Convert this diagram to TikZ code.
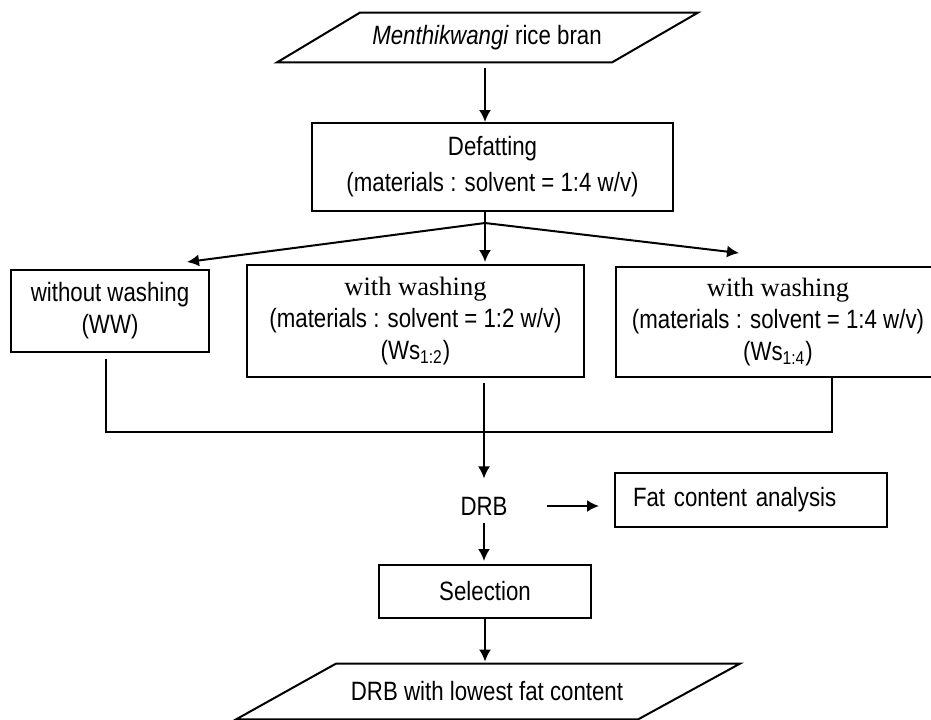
\documentclass[tikz,border=0pt]{standalone}
\usepackage{fontspec}
\setmainfont{Liberation Sans}[FakeStretch=0.84]
\newfontfamily\timesfont{Liberation Serif}
\usepackage{tikz}
\usetikzlibrary{arrows.meta, positioning, calc}
\tikzset{>={Latex[width=6pt,length=6pt]}}
\tikzset{
  box/.style = {draw, line width=1pt, align=center, inner sep=2pt},
  io/.style = {align=center, inner sep=0pt},
  flow/.style = {->, line width=1pt},
  wire/.style = {line width=1pt},
}

\begin{document}
\begin{tikzpicture}[x=0.5pt, y=-0.5pt, font=\fontsize{13.25}{16}\selectfont]
			\useasboundingbox (0,0) rectangle (931,719);
			% input and output (parallelograms)
			\node (bran) [io, minimum height=24.5pt] at (487,37.5) {\textit{Menthikwangi} rice bran};
			\draw[wire] ($(bran.north)+(-127,0)$) -- ($(bran.north)+(211,0)$) -- ($(bran.south)+(125,0)$) -- ($(bran.south)+(-210,0)$) -- cycle;
			\node (low) [io, minimum height=27.5pt] at (487,691.5) {DRB with lowest fat content};
			\draw[wire] ($(low.north)+(-151,0)$) -- ($(low.north)+(253,0)$) -- ($(low.south)+(151,0)$) -- ($(low.south)+(-251,0)$) -- cycle;
			% process boxes
			\node (defat) [box, minimum width=180.5pt, minimum height=44pt] at (492.5,167) {Defatting\\[2pt] (materials : solvent = 1:4 w/v)};
			\node (ww) [box, minimum width=99pt, minimum height=41pt] at (110,311) {without washing\\ (WW)};
			\node (ws12) [box, minimum width=168.5pt, minimum height=56pt] at (415.5,321) {{\timesfont with washing}\\ (materials : solvent = 1:2 w/v)\\ (Ws\textsubscript{1:2})};
			\node (ws14) [box, minimum width=162pt, minimum height=55pt] at (778,322) {{\timesfont with washing}\\ (materials : solvent = 1:4 w/v)\\ (Ws\textsubscript{1:4})};
			\node (drb) [io] at (484,506) {DRB};
			\node (fat) [box, text width=118pt, align=left, inner xsep=9pt, minimum height=27pt] at (751,500) {Fat content analysis};
			\node (sel) [box, minimum width=106pt, minimum height=26.5pt] at (485,591.5) {Selection};
			\coordinate (split) at (485,223);
			\coordinate (merge) at (484,432);
			% connectors
			\draw[flow, shorten <=3pt] (bran.south -| split) -- (defat.north -| split);
			\draw[wire] (defat.south -| split) -- (split);
			\draw[flow] (split) -- ([shift={(-23,-7)}]ww.north east);
			\draw[flow, shorten >=1pt] (split) -- (ws12.north -| split);
			\draw[flow] (split) -- ([shift={(-39,-13)}]ws14.north);
			\draw[wire] ([xshift=-2pt, yshift=-3pt]ww.south) |- (merge);
			\draw[wire] ([xshift=27pt]ws14.south) |- (merge);
			\draw[wire] ([yshift=-2.5pt]ws12.south -| merge) -- (merge);
			\draw[flow, shorten >=9pt] (merge) -- (drb.north);
			\draw[flow, shorten <=3.5pt, shorten >=1.5pt] (drb.south) -- (drb.south |- sel.north);
			\draw[flow, shorten <=19.5pt, shorten >=7.5pt] (drb.east) -- (drb.east -| fat.west);
			\draw[flow, shorten >=1pt] (sel.south) -- (low.north -| sel.south);
\end{tikzpicture}
\end{document}
